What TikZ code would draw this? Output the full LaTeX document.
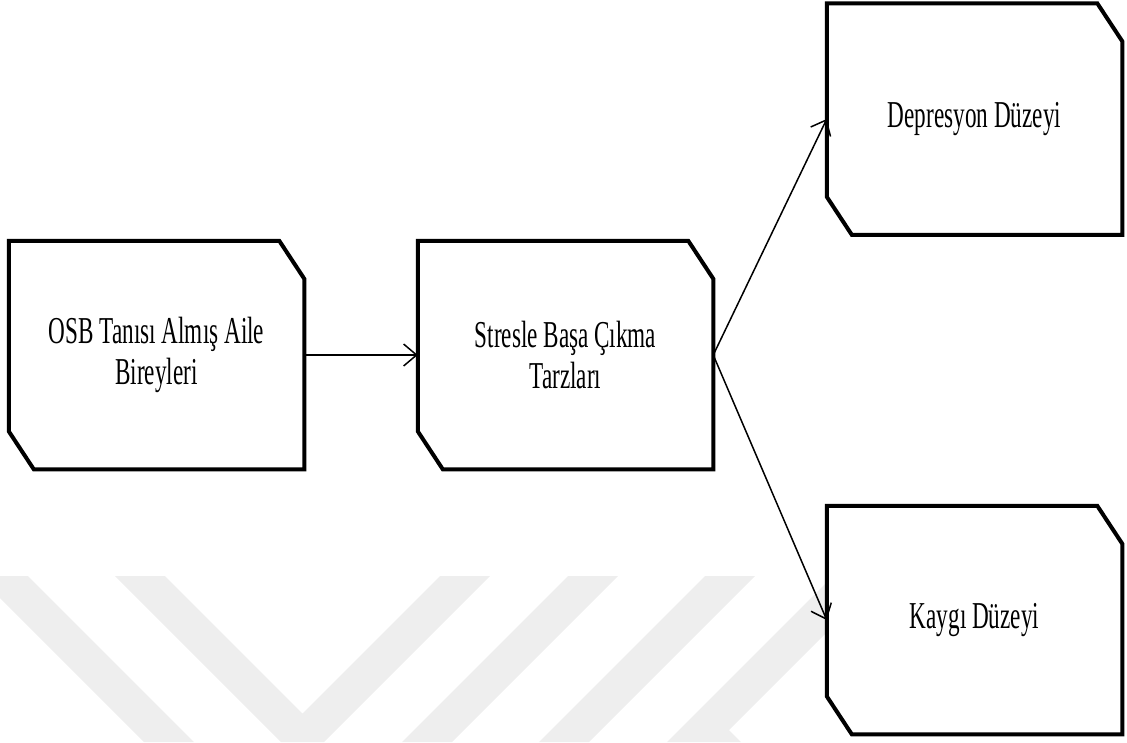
\documentclass[tikz,border=0pt]{standalone}
\usepackage{fontspec}
\setmainfont{Liberation Serif}[FakeStretch=0.61]
\usetikzlibrary{arrows.meta, calc}
\definecolor{cmark}{HTML}{EEEEEE}
\tikzset{
  every picture/.style={line width=1.5pt},
  box/.style={fill=white, align=center, inner sep=0pt, minimum width=294pt, minimum height=227pt, font=\fontsize{38}{41}\selectfont},
  frame/.style={line width=4pt},
  arrow/.style={-{Straight Barb[length=13pt, width=22pt, line width=1.5pt]}, line width=1.5pt},
}

\begin{document}
\begin{tikzpicture}[x=1pt, y=-1pt]
  \useasboundingbox (0,0) rectangle (1127,742);
  % watermark
  \fill[cmark] (-22,576) -- (28,576) -- (194,742) -- (144,742) -- cycle;
  \fill[cmark] (115,576) -- (165,576) -- (302.5,713.5) -- (440,576) -- (490,576) -- (324,742) -- (281,742) -- cycle;
  \fill[cmark] (568,576) -- (618,576) -- (452,742) -- (402,742) -- cycle;
  \fill[cmark] (705,576) -- (755,576) -- (589,742) -- (539,742) -- cycle;
  \fill[cmark] (833,576) -- (883,576) -- (729,730) -- (741,742) -- (667,742) -- cycle;
  % boxes
  \node[box] (osb) at (156.5,355) {OSB Tanısı Almış Aile\\Bireyleri};
  \node[box] (stres) at (565.5,355) {Stresle Başa Çıkma\\Tarzları};
  \node[box, minimum height=230pt] (dep) at (974.5,119) {Depresyon Düzeyi};
  \node[box] (kaygi) at (974.5,620) {Kaygı Düzeyi};
  \foreach \n in {osb,stres,dep,kaygi}
    \draw[frame] (\n.north west) -- ([xshift=-25pt]\n.north east) -- ([yshift=-38pt]\n.north east)
      -- (\n.south east) -- ([xshift=25pt]\n.south west) -- ([yshift=38pt]\n.south west) -- cycle;
  % arrows
  \draw[arrow] (osb.east) -- (stres.west);
  \draw[arrow] (stres.east) -- (dep.west);
  \draw[arrow] (stres.east) -- (kaygi.west);
\end{tikzpicture}
\end{document}
